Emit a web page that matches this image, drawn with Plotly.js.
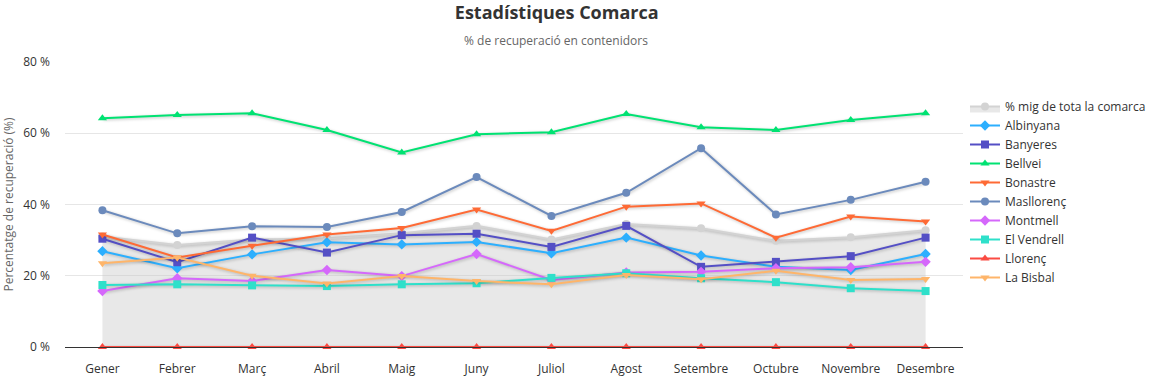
<!DOCTYPE html>
<html><head><meta charset="utf-8">
<script src="https://cdn.plot.ly/plotly-3.0.1.min.js"></script>
<style>
body{margin:0;background:#fff}
#chart{width:1155px;height:377px}
.scatterlayer .trace path.js-line{filter:drop-shadow(1px 1px 1.5px rgba(0,0,0,0.25));}
</style></head>
<body><div id="chart"></div>
<script>
const months = ["Gener","Febrer","Març","Abril","Maig","Juny","Juliol","Agost","Setembre","Octubre","Novembre","Desembre"];
const mitjana   = [31.0,28.6,30.2,30.5,31.9,34.0,30.2,34.5,33.3,29.8,30.8,32.8];
const albinyana = [26.9,22.1,26.0,29.4,28.8,29.5,26.3,30.7,25.7,22.5,21.6,26.1];
const banyeres  = [30.4,23.8,30.7,26.5,31.4,31.8,28.1,34.0,22.5,23.9,25.5,30.7];
const bellvei   = [64.2,65.1,65.6,60.9,54.6,59.7,60.3,65.4,61.7,60.9,63.7,65.6];
const bonastre  = [31.6,25.1,28.4,31.6,33.4,38.6,32.6,39.4,40.3,30.7,36.6,35.2];
const masllorenc= [38.4,31.9,33.9,33.7,37.9,47.7,36.8,43.3,55.8,37.2,41.3,46.4];
const montmell  = [15.7,19.3,18.5,21.6,19.9,26.1,18.8,20.9,21.1,22.1,22.4,23.9];
const vendrell  = [17.4,17.6,17.3,17.1,17.6,17.9,19.4,20.7,19.3,18.2,16.5,15.7];
const llorenc   = [0,0,0,0,0,0,0,0,0,0,0,0];
const bisbal    = [23.5,25.1,20.0,17.8,19.9,18.5,17.6,20.2,19.0,21.4,18.8,19.1];

function line(name, y, color, symbol, size){
  return {x: months, y: y, name: name, type:'scatter', mode:'lines+markers',
    line:{color:color, width:2}, marker:{color:color, symbol:symbol, size:size||8}, cliponaxis:false};
}
const traces = [
  {x: months, y: mitjana, name:'% mig de tota la comarca', type:'scatter', mode:'lines+markers',
   fill:'tozeroy', fillcolor:'rgba(200,200,200,0.42)', line:{color:'#d3d3d3', width:2},
   marker:{color:'#d3d3d3', symbol:'circle', size:8}, cliponaxis:false},
  line('Albinyana', albinyana, '#2caffe', 'diamond', 8),
  line('Banyeres', banyeres, '#544fc5', 'square', 8),
  line('Bellvei', bellvei, '#00e272', 'triangle-up', 8),
  line('Bonastre', bonastre, '#fe6a35', 'triangle-down', 8),
  line('Masllorenç', masllorenc, '#6b8abc', 'circle', 8),
  line('Montmell', montmell, '#d568fb', 'diamond', 8),
  line('El Vendrell', vendrell, '#2ee0ca', 'square', 8),
  line('Llorenç', llorenc, '#fa4b42', 'triangle-up', 8),
  line('La Bisbal', bisbal, '#feb56a', 'triangle-down', 8)
];
const layout = {
  width:1155, height:377,
  margin:{l:65, r:192, t:62, b:30, autoexpand:false},
  font:{family:'"Open Sans", "Noto Sans", sans-serif', size:12, color:'#333'},
  paper_bgcolor:'#fff', plot_bgcolor:'#fff',
  title:{text:'<b>Estadístiques Comarca</b>', x:0.482, xref:'container', xanchor:'center',
    y:0.965, yref:'container', yanchor:'middle', font:{size:18, color:'#333'}},
  annotations:[{text:'% de recuperació en contenidors', xref:'paper', yref:'paper',
    x:(556-65)/898, y:1+(62-40)/285, xanchor:'center', yanchor:'middle', showarrow:false,
    font:{size:12, color:'#666'}}],
  xaxis:{type:'category', range:[-0.5, 11.5], showgrid:false, showline:true, linecolor:'#333', linewidth:1,
    ticks:'', tickfont:{size:12, color:'#333'}, zeroline:false, automargin:false, ticklabelstandoff:11},
  yaxis:{range:[0,80], dtick:20, ticksuffix:' %', gridcolor:'#e6e6e6', zeroline:false,
    showline:false, tickfont:{size:12, color:'#333'}, automargin:false, ticklabelstandoff:14,
    title:{text:'Percentatge de recuperació (%)', font:{size:12, color:'#666'}, standoff:8}},
  legend:{x:(965-65)/898, xanchor:'left', y:(347-92)/285, yanchor:'top', font:{size:12, color:'#333'},
    bgcolor:'rgba(0,0,0,0)', tracegroupgap:0, itemwidth:30},
  showlegend:true
};
Plotly.newPlot('chart', traces, layout, {displayModeBar:false, staticPlot:true});
</script></body></html>
